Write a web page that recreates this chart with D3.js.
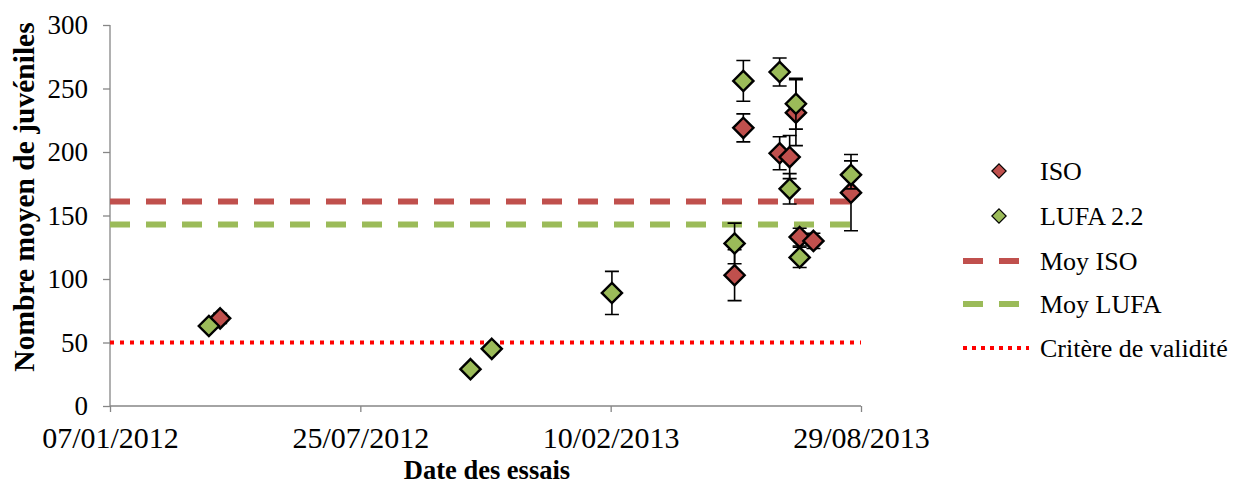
<!DOCTYPE html>
<html>
<head>
<meta charset="utf-8">
<script src="https://cdn.jsdelivr.net/npm/d3@7"></script>
<style>
  html, body { margin: 0; padding: 0; background: #fff; }
  svg { display: block; }
  text { font-family: "Liberation Serif", "Times New Roman", serif; fill: #000; }
</style>
</head>
<body>
<svg id="chart" width="1234" height="486"></svg>
<script>
// Test dates and mean juvenile counts with their standard deviations
const isoDates   = ["2012-04-04", "2013-05-20", "2013-05-27", "2013-06-25", "2013-07-03", "2013-07-08", "2013-07-11", "2013-07-22", "2013-08-21"];
const isoValues  = [69, 103, 219, 199, 196, 231, 133, 130, 168];
const isoErrors  = [4, 20, 11, 13, 17, 26, 7, 6, 30];

const lufaDates  = ["2012-03-26", "2012-10-21", "2012-11-07", "2013-02-11", "2013-05-20", "2013-05-27", "2013-06-25", "2013-07-03", "2013-07-08", "2013-07-11", "2013-08-21"];
const lufaValues = [63, 29, 45, 89, 128, 256, 263, 171, 238, 117, 182];
const lufaErrors = [3, 2, 2, 17, 16, 16, 11, 12, 20, 8, 11];

// Reference levels
const meanIso  = 161;
const meanLufa = 143;
const validityCriterion = 50;

// Axis ticks
const xTickDates  = ["2012-01-07", "2012-07-25", "2013-02-10", "2013-08-29"];
const yTickValues = [0, 50, 100, 150, 200, 250, 300];

const legendLabels = ["ISO", "LUFA 2.2", "Moy ISO", "Moy LUFA", "Critère de validité"];

const parse = d3.utcParse("%Y-%m-%d");
const fmt = d3.utcFormat("%d/%m/%Y");

const RED = "#C0504D", GREEN = "#9BBB59", DOT = "#FF0000", AXIS = "#868686";

const svg = d3.select("#chart");
const plotLeft = 110, plotRight = 861, plotTop = 25, plotBottom = 406;

const x = d3.scaleUtc()
  .domain([parse(xTickDates[0]), parse(xTickDates[xTickDates.length - 1])])
  .range([plotLeft, plotRight]);
const y = d3.scaleLinear().domain([0, 300]).range([plotBottom, plotTop]);

// Axes
const yAxis = svg.append("g")
  .attr("transform", `translate(${plotLeft},0)`)
  .call(d3.axisLeft(y).tickValues(yTickValues).tickSize(7).tickPadding(15).tickFormat(d3.format("d")));
const xAxis = svg.append("g")
  .attr("transform", `translate(0,${plotBottom})`)
  .call(d3.axisBottom(x).tickValues(xTickDates.map(parse)).tickSize(6).tickPadding(15).tickFormat(fmt));
[xAxis, yAxis].forEach(g => {
  g.select(".domain").attr("stroke", AXIS).attr("stroke-width", 1.3);
  g.selectAll(".tick line").attr("stroke", AXIS).attr("stroke-width", 1.3);
  g.selectAll(".tick text").attr("font-family", "Liberation Serif");
});
xAxis.selectAll(".tick text").attr("font-size", 30);
yAxis.selectAll(".tick text").attr("font-size", 27);
xAxis.select(".domain").attr("d", `M${plotLeft},0H${plotRight}`);
yAxis.select(".domain").attr("d", `M0,${plotTop}V${plotBottom}`);

// Axis titles
svg.append("text")
  .attr("x", 487).attr("y", 479)
  .attr("text-anchor", "middle").attr("font-size", 26.5).attr("font-weight", "bold")
  .text("Date des essais");
svg.append("text")
  .attr("transform", `translate(34,197) rotate(-90)`)
  .attr("text-anchor", "middle").attr("font-size", 29.5).attr("font-weight", "bold")
  .text("Nombre moyen de juvéniles");

// Reference lines
const xStart = parse(xTickDates[0]);
const xLast = parse(isoDates[isoDates.length - 1]);
const xEnd = parse(xTickDates[xTickDates.length - 1]);
const hline = d3.line().x(d => x(d[0])).y(d => y(d[1]));

svg.append("path")
  .attr("d", hline([[xStart, meanIso], [xLast, meanIso]]))
  .attr("stroke", RED).attr("stroke-width", 6).attr("fill", "none")
  .attr("stroke-dasharray", "20,16");
svg.append("path")
  .attr("d", hline([[xStart, meanLufa], [xLast, meanLufa]]))
  .attr("stroke", GREEN).attr("stroke-width", 6).attr("fill", "none")
  .attr("stroke-dasharray", "20,16");
svg.append("path")
  .attr("d", hline([[xStart, validityCriterion], [xEnd, validityCriterion]]))
  .attr("stroke", DOT).attr("stroke-width", 4).attr("fill", "none")
  .attr("stroke-dasharray", "4,6");

// Series: error bars then diamond markers
const diamond = d3.symbol().type(d3.symbolDiamond2).size(260);

function drawSeries(dates, values, errors, color) {
  const data = dates.map((d, i) => ({ date: parse(d), v: values[i], e: errors[i] }));
  const g = svg.append("g");
  const eb = g.append("g").attr("stroke", "#000").attr("stroke-width", 1.6).attr("fill", "none");
  data.forEach(d => {
    const cx = x(d.date), y0 = y(d.v - d.e), y1 = y(d.v + d.e);
    eb.append("path").attr("d", `M${cx},${y0}V${y1}M${cx - 7},${y0}H${cx + 7}M${cx - 7},${y1}H${cx + 7}`);
  });
  g.selectAll("path.pt").data(data).join("path")
    .attr("class", "pt")
    .attr("d", diamond)
    .attr("transform", d => `translate(${x(d.date)},${y(d.v)})`)
    .attr("fill", color).attr("stroke", "#000").attr("stroke-width", 2.4);
}
drawSeries(isoDates, isoValues, isoErrors, RED);
drawSeries(lufaDates, lufaValues, lufaErrors, GREEN);

// Legend
const legend = svg.append("g");
const rowsY = [171, 216, 261, 304, 348];
const smallDiamond = d3.symbol().type(d3.symbolDiamond2).size(130);
legend.append("path").attr("d", smallDiamond).attr("transform", `translate(999,${rowsY[0]})`)
  .attr("fill", RED).attr("stroke", "#000").attr("stroke-width", 1.2);
legend.append("path").attr("d", smallDiamond).attr("transform", `translate(999,${rowsY[1]})`)
  .attr("fill", GREEN).attr("stroke", "#000").attr("stroke-width", 1.2);
legend.append("line").attr("x1", 963).attr("x2", 1019).attr("y1", rowsY[2]).attr("y2", rowsY[2])
  .attr("stroke", RED).attr("stroke-width", 6).attr("stroke-dasharray", "20,16");
legend.append("line").attr("x1", 963).attr("x2", 1019).attr("y1", rowsY[3]).attr("y2", rowsY[3])
  .attr("stroke", GREEN).attr("stroke-width", 6).attr("stroke-dasharray", "20,16");
legend.append("line").attr("x1", 963).attr("x2", 1029).attr("y1", rowsY[4]).attr("y2", rowsY[4])
  .attr("stroke", DOT).attr("stroke-width", 4).attr("stroke-dasharray", "4,5");
legend.selectAll("text.lbl").data(legendLabels).join("text")
  .attr("class", "lbl")
  .attr("x", 1040).attr("y", (d, i) => rowsY[i])
  .attr("dy", "0.35em").attr("font-size", 26)
  .text(d => d);
</script>
</body>
</html>
